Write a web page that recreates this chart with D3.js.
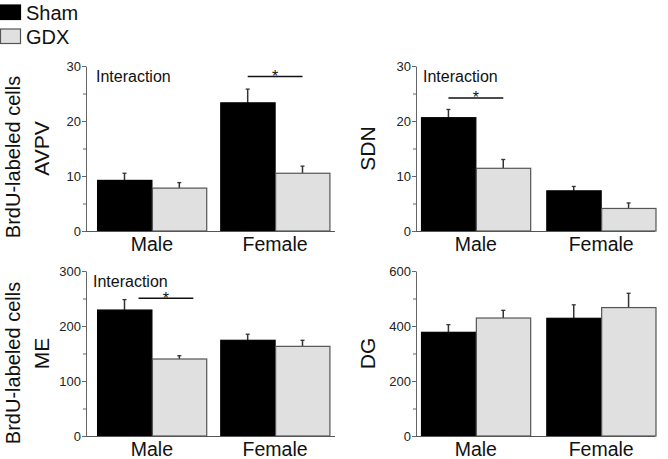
<!DOCTYPE html>
<html><head><meta charset="utf-8">
<script src="https://cdn.jsdelivr.net/npm/d3@7/dist/d3.min.js"></script>
<style>body{margin:0;background:#fff}svg{display:block;font-family:"Liberation Sans",Arial,sans-serif}</style>
</head><body><svg id="c" width="668" height="459"></svg>
<script>
// ---- data ----
const categories = ["Male", "Female"];
const groups = ["Sham", "GDX"];
const regions = ["AVPV", "SDN", "ME", "DG"];
const avpvMean = [[9.2, 7.8], [23.3, 10.5]];
const avpvErr  = [[1.3, 1.0], [2.5, 1.3]];
const sdnMean  = [[20.6, 11.4], [7.3, 4.1]];
const sdnErr   = [[1.5, 1.6], [0.8, 1.0]];
const meMean   = [[229, 140], [174, 163]];
const meErr    = [[19, 6], [11, 11]];
const dgMean   = [[377, 429], [428, 467]];
const dgErr    = [[28, 28], [49, 52]];
const yMax     = [30, 30, 300, 600];
const yTicks   = [[0, 10, 20, 30], [0, 10, 20, 30], [0, 100, 200, 300], [0, 200, 400, 600]];
const sigCategory = ["Female", "Male", "Male", null];
const sigLevel = [28.1, 24.2, 250.4, null];
const interactionLabel = "Interaction";
const yTitle = "BrdU-labeled cells";

// ---- layout ----
const panels = [
  {name: regions[0], mean: avpvMean, err: avpvErr, ax: 86, range: [86, 341], inner: 0.11, outer: 0.09, y0: 231, y1: 66, lx: 41, interaction: true, shift: 0, ix: 10},
  {name: regions[1], mean: sdnMean, err: sdnErr, ax: 416, range: [416, 661], inner: 0.125, outer: 0.04, y0: 231, y1: 66, lx: 367, interaction: true, shift: 0, ix: 7},
  {name: regions[2], mean: meMean, err: meErr, ax: 86, range: [86, 341], inner: 0.11, outer: 0.09, y0: 436, y1: 271, lx: 41, interaction: true, shift: 14, ix: 7},
  {name: regions[3], mean: dgMean, err: dgErr, ax: 416, range: [416, 661], inner: 0.125, outer: 0.04, y0: 436, y1: 271, lx: 367, interaction: false, shift: 0, ix: 7}
];
const fills = {Sham: "#000", GDX: "#e0e0e0"};
const strokes = {Sham: "#000", GDX: "#555"};

const svg = d3.select("#c");

panels.forEach((p, i) => {
  const g = svg.append("g");
  const x = d3.scaleBand().domain(categories).range(p.range).paddingInner(p.inner).paddingOuter(p.outer);
  const xs = d3.scaleBand().domain(groups).range([0, x.bandwidth()]);
  const y = d3.scaleLinear().domain([0, yMax[i]]).range([p.y0, p.y1]);

  // bars
  categories.forEach((c, ci) => {
    groups.forEach((gr, gi) => {
      const v = p.mean[ci][gi], e = p.err[ci][gi];
      const bx = x(c) + xs(gr);
      const cx = bx + xs.bandwidth() / 2;
      g.append("line").attr("x1", cx).attr("x2", cx).attr("y1", y(v)).attr("y2", y(v + e))
        .attr("stroke", "#333").attr("stroke-width", 1.5);
      g.append("line").attr("x1", cx - 2).attr("x2", cx + 2).attr("y1", y(v + e)).attr("y2", y(v + e))
        .attr("stroke", "#333").attr("stroke-width", 1.3);
      g.append("rect").attr("x", bx + 0.5).attr("y", y(v))
        .attr("width", xs.bandwidth() - 0.5).attr("height", y(0) - y(v))
        .attr("fill", fills[gr]).attr("stroke", strokes[gr]).attr("stroke-width", 1.2);
    });
  });

  // y axis
  const minor = d3.range(0, yMax[i] + 1e-9, yTicks[i][1] / 2).filter(t => !yTicks[i].includes(t));
  g.append("g").attr("transform", `translate(${p.ax},0)`)
    .call(d3.axisLeft(y).tickValues(minor).tickSize(3).tickFormat(""))
    .call(a => a.select(".domain").remove())
    .call(a => a.selectAll("line").attr("stroke", "#666"));
  g.append("g").attr("transform", `translate(${p.ax},0)`)
    .call(d3.axisLeft(y).tickValues(yTicks[i]).tickSize(4).tickPadding(1).tickSizeOuter(0))
    .call(a => a.select(".domain").attr("stroke", "#666"))
    .call(a => a.selectAll("line").attr("stroke", "#666"))
    .call(a => a.selectAll("text").attr("font-size", 13).attr("fill", "#222").attr("font-family", "Liberation Sans, Arial, sans-serif"));

  // x baseline
  g.append("line").attr("x1", p.ax).attr("x2", p.range[1] - 6).attr("y1", p.y0 + 0.5).attr("y2", p.y0 + 0.5)
    .attr("stroke", "#555").attr("stroke-width", 1.2);

  // category labels
  g.selectAll(".cat").data(categories).enter().append("text")
    .attr("x", d => x(d) + x.bandwidth() / 2).attr("y", p.y0 + 19.5)
    .attr("text-anchor", "middle").attr("font-size", 19.5).attr("fill", "#111").text(d => d);

  // region label
  g.append("text").attr("transform", `translate(${p.lx},${(p.y0 + p.y1) / 2}) rotate(-90)`)
    .attr("text-anchor", "middle").attr("dominant-baseline", "central")
    .attr("font-size", 21).attr("fill", "#111").text(p.name);

  if (p.interaction) {
    g.append("text").attr("x", p.ax + p.ix).attr("y", p.y1 + 16).attr("font-size", 16).attr("fill", "#111").text(interactionLabel);
  }
  if (sigCategory[i]) {
    const c = sigCategory[i];
    const xl = x(c) + xs("Sham") + xs.bandwidth() / 2 + p.shift;
    const xr = x(c) + xs("GDX") + xs.bandwidth() / 2 + p.shift;
    const ly = y(sigLevel[i]);
    g.append("line").attr("x1", xl).attr("x2", xr).attr("y1", ly).attr("y2", ly).attr("stroke", "#111").attr("stroke-width", 1.5);
    g.append("text").attr("x", (xl + xr) / 2).attr("y", ly + 5.5).attr("text-anchor", "middle").attr("font-size", 16).attr("fill", "#111").text("*");
  }
});

// shared y titles
[157, 363].forEach(cy => {
  svg.append("text").attr("transform", `translate(13,${cy}) rotate(-90)`)
    .attr("text-anchor", "middle").attr("dominant-baseline", "central")
    .attr("font-size", 20).attr("fill", "#111").text(yTitle);
});

// legend
const leg = svg.append("g");
groups.forEach((gr, k) => {
  leg.append("rect").attr("x", 0.5).attr("y", 5 + k * 24).attr("width", 20).attr("height", 14.5)
    .attr("fill", fills[gr]).attr("stroke", strokes[gr]).attr("stroke-width", 1.2);
  leg.append("text").attr("x", 26).attr("y", 20 + k * 24).attr("font-size", 20).attr("fill", "#111").text(gr);
});
</script></body></html>
